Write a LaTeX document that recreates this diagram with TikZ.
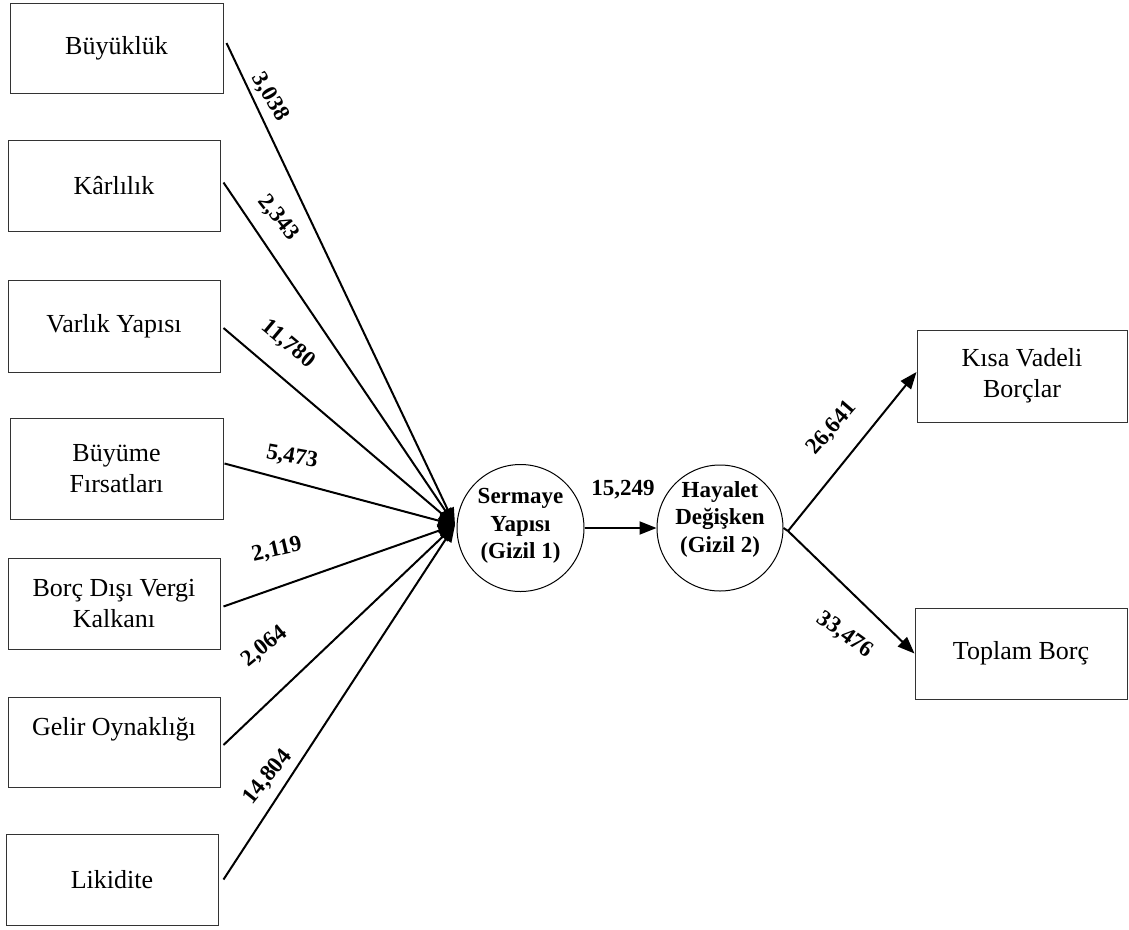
\documentclass[tikz,border=0pt]{standalone}
\usepackage{fontspec}
\setmainfont{Liberation Serif}
\usetikzlibrary{arrows.meta}
\begin{document}
\begin{tikzpicture}[x=1pt,y=-1pt,
  box/.style={draw=black!80,line width=1pt,rectangle,inner sep=0pt,align=center,
    font=\fontsize{26}{31}\selectfont},
  lat/.style={draw=black,line width=1pt,circle,inner sep=0pt,minimum size=127pt},
  lattext/.style={align=center,font=\fontsize{23}{27.5}\selectfont\bfseries},
  wlab/.style={font=\fontsize{23}{27}\selectfont\bfseries,inner sep=0pt},
  con/.style={line width=2pt,-{Triangle[length=17pt,width=13pt]}}]
\useasboundingbox[fill=white] (0,0) rectangle (1129,929);
% left boxes
\node[box,minimum width=213pt,minimum height=90pt] (b1) at (116.5,48) {Büyüklük};
\node[box,minimum width=212pt,minimum height=91pt] (b2) at (114,185.5) {Kârlılık};
\node[box,minimum width=212pt,minimum height=92pt] (b3) at (114,326) {Varlık Yapısı};
\node[box,minimum width=213pt,minimum height=101pt] (b4) at (116.5,468.5) {Büyüme\\Fırsatları};
\node[box,minimum width=212pt,minimum height=91pt] (b5) at (114,603.5) {Borç Dışı Vergi\\Kalkanı};
\node[box,minimum width=212pt,minimum height=90pt] (b6) at (114,742) {Gelir Oynaklığı\\\mbox{}};
\node[box,minimum width=212pt,minimum height=91pt] (b7) at (112,879.5) {Likidite};
% right boxes
\node[box,minimum width=210pt,minimum height=92pt] (k) at (1022,376) {Kısa Vadeli\\Borçlar};
\node[box,minimum width=212pt,minimum height=91pt] (t) at (1021,653.5) {Toplam Borç};
% latent variables
\node[lat] (s) at (520.5,528) {};
\node[lattext] (st) at ([yshift=2pt]s.center) {Sermaye\\Yapısı\\(Gizil 1)};
\node[lat,minimum size=126pt] (h) at (720,528) {};
\node[lattext] (ht) at ([yshift=9pt]h.center) {Hayalet\\Değişken\\(Gizil 2)};
\coordinate (c) at (455,525);
\coordinate (o) at (788,531);
% connectors
\draw[con] ([xshift=3pt,yshift=5pt]b1.east) -- (c);
\draw[con] ([xshift=3pt,yshift=3pt]b2.east) -- (c);
\draw[con] ([xshift=3pt,yshift=-2pt]b3.east) -- (c);
\draw[con] ([xshift=1pt,yshift=5pt]b4.east) -- (c);
\draw[con] ([xshift=3pt,yshift=-3pt]b5.east) -- (c);
\draw[con] ([xshift=3pt,yshift=-3pt]b6.east) -- (c);
\draw[con] ([xshift=5pt]b7.east) -- (c);
\draw[con] (s.east) -- (h.west);
\draw[con] (o) -- ([yshift=4pt]k.west);
\draw[con] (o) -- (t.west);
\draw[line width=2pt] (h.east) -- (o);
% weights
\node[wlab,rotate=-60] (l1) at (270,97) {3,038};
\node[wlab,rotate=-52] (l2) at (278,218) {2,343};
\node[wlab,rotate=-40] (l3) at (288,344) {11,780};
\node[wlab,rotate=-10] (l4) at (292,457) {5,473};
\node[wlab,rotate=13] (l5) at (277,550) {2,119};
\node[wlab,rotate=39] (l6) at (265,647) {2,064};
\node[wlab,rotate=51] (l7) at (268,777) {14,804};
\node[wlab] (l8) at (623,490) {15,249};
\node[wlab,rotate=49] (l9) at (832,428) {26,641};
\node[wlab,rotate=-36] (l10) at (845,635) {33,476};
\end{tikzpicture}
\end{document}
